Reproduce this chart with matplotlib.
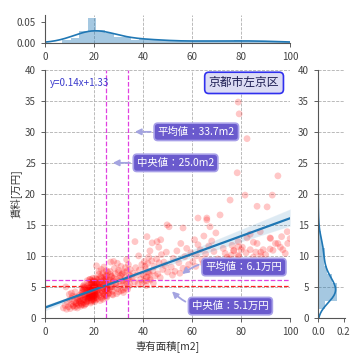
import numpy as np
import matplotlib
matplotlib.use('Agg')
import matplotlib.pyplot as plt
import seaborn as sns

sns.set_style('ticks')
plt.rcParams['font.family'] = ['Noto Sans CJK JP', 'DejaVu Sans']

# 専有面積 [m2] / 賃料 [万円]  (by area range)
area_1 = [7.5, 8.2, 8.8, 9.1, 9.6, 10.0, 10.3, 10.7, 11.0, 11.4,
          11.8, 12.1, 12.4, 12.7, 13.0, 13.2, 13.5, 13.8, 14.0, 14.2,
          9.9, 10.8, 11.6, 12.3, 12.9, 13.4, 13.9, 8.5, 11.2, 12.6]
rent_1 = [1.6, 2.0, 1.4, 2.5, 1.8, 2.9, 1.5, 2.2, 3.1, 1.9,
          2.6, 1.7, 3.4, 2.3, 2.8, 1.6, 3.0, 2.1, 3.6, 2.5,
          3.8, 4.0, 2.0, 4.2, 1.9, 3.3, 2.7, 5.0, 3.5, 2.4]

area_2 = [14.5, 14.8, 15.0, 15.2, 15.5, 15.7, 16.0, 16.2, 16.4, 16.6,
          16.8, 17.0, 17.1, 17.3, 17.5, 17.6, 17.8, 18.0, 18.1, 18.2,
          18.3, 18.5, 18.6, 18.7, 18.8, 18.9, 19.0, 19.1, 19.2, 19.3,
          19.4, 19.5, 19.6, 19.7, 19.8, 19.9, 20.0, 14.6, 15.3, 15.9,
          16.5, 17.2, 17.9, 18.4, 18.9, 19.5, 20.0, 16.1, 17.4, 18.6,
          19.2, 19.8, 15.6, 16.9, 18.0, 18.8, 19.4, 17.7, 18.2, 19.0]
rent_2 = [2.8, 3.5, 2.2, 4.1, 3.0, 2.5, 3.8, 4.5, 2.9, 3.3,
          4.8, 2.6, 3.9, 5.2, 3.1, 4.4, 2.7, 3.6, 5.0, 4.0,
          3.2, 4.7, 2.4, 5.5, 3.7, 4.2, 3.4, 5.8, 2.9, 4.6,
          3.9, 5.1, 4.3, 3.0, 5.6, 4.9, 3.6, 1.9, 2.1, 5.3,
          2.2, 6.0, 4.1, 6.2, 2.6, 6.4, 5.9, 5.0, 3.3, 3.8,
          4.5, 2.8, 4.6, 4.2, 4.9, 5.4, 3.5, 3.8, 5.7, 6.1]

area_2b = [14.3, 14.7, 15.1, 15.4, 15.8, 16.1, 16.3, 16.7, 17.0, 17.3,
           17.5, 14.9, 15.6, 16.4, 17.1, 16.0, 15.2]
rent_2b = [3.1, 2.4, 3.7, 4.4, 2.9, 3.4, 4.9, 2.3, 3.9, 4.6,
           3.2, 4.0, 5.1, 3.6, 2.7, 2.0, 4.8]

area_2c = [17.8, 17.9, 18.0, 18.1, 18.2, 18.3, 18.4, 18.5, 18.6, 18.7,
           18.8, 18.9, 19.0, 19.1, 19.2, 19.3, 19.4, 19.5, 19.6, 19.7,
           19.8, 19.9, 20.0, 20.1, 20.2, 20.3, 20.4, 20.5, 20.6, 20.7,
           20.8, 20.9, 21.0, 18.0, 18.5, 19.0, 19.5, 20.0, 20.5, 21.0,
           18.2, 18.8, 19.4, 20.0, 20.6]
rent_2c = [4.3, 3.6, 4.6, 3.4, 4.8, 3.6, 4.3, 3.9, 4.0, 3.3,
           4.9, 3.7, 4.5, 3.8, 5.3, 4.0, 4.9, 3.5, 4.7, 4.1,
           3.4, 5.6, 4.6, 3.2, 5.2, 4.4, 3.8, 5.0, 3.7, 5.0,
           4.2, 3.5, 5.8, 3.3, 3.9, 4.7, 4.5, 3.1, 4.0, 4.8,
           6.2, 2.8, 5.9, 3.8, 4.7]

area_3 = [20.2, 20.4, 20.5, 20.7, 20.9, 21.0, 21.2, 21.3, 21.5, 21.6,
          21.8, 22.0, 22.1, 22.3, 22.4, 22.6, 22.8, 22.9, 23.0, 23.2,
          23.4, 23.5, 23.7, 23.9, 24.0, 24.2, 24.3, 24.5, 24.7, 24.8,
          25.0, 25.2, 25.3, 25.5, 25.7, 25.9, 20.3, 20.8, 21.4, 21.9,
          22.5, 23.1, 23.6, 24.1, 24.6, 25.1, 25.6, 20.6, 21.1, 21.7,
          22.2, 22.7, 23.3, 23.8, 24.4, 24.9, 25.4, 25.8, 22.0, 23.0,
          21.0, 24.0, 25.0, 20.5, 22.4, 23.6, 24.8, 21.5, 23.3, 25.2]
rent_3 = [4.2, 3.6, 5.1, 4.8, 3.3, 5.7, 4.4, 6.0, 3.9, 5.3,
          4.6, 6.3, 3.7, 5.0, 4.1, 5.8, 4.9, 3.4, 6.5, 4.3,
          5.5, 4.0, 6.1, 4.7, 5.2, 3.8, 6.6, 4.5, 5.9, 4.2,
          5.4, 6.8, 4.6, 5.1, 3.9, 5.7, 2.6, 2.9, 3.1, 7.0,
          2.8, 3.2, 7.2, 3.5, 6.9, 3.3, 7.4, 5.5, 6.2, 4.9,
          5.6, 6.7, 4.4, 5.9, 5.0, 6.3, 4.8, 6.0, 7.5, 7.8,
          8.4, 8.2, 7.6, 6.4, 5.3, 3.0, 3.6, 5.0, 5.4, 4.7]

area_4 = [26.0, 26.3, 26.6, 26.9, 27.2, 27.5, 27.8, 28.1, 28.4, 28.7,
          29.0, 29.3, 29.6, 29.9, 30.2, 30.5, 30.8, 31.1, 31.4, 31.7,
          32.0, 32.3, 32.6, 32.9, 33.2, 33.5, 33.8, 34.1, 34.4, 34.7,
          26.5, 27.4, 28.3, 29.2, 30.1, 31.0, 31.9, 32.8, 33.7, 34.6,
          27.0, 28.8, 30.6, 32.4, 34.2, 26.8, 29.5, 31.6, 33.3, 35.0,
          28.0, 30.0, 32.0, 34.0, 27.7]
rent_4 = [5.3, 4.6, 6.1, 5.0, 6.7, 4.3, 5.8, 6.4, 4.9, 7.1,
          5.5, 6.2, 4.7, 7.3, 5.9, 5.2, 6.8, 4.4, 7.0, 6.0,
          5.6, 7.4, 4.8, 6.5, 5.7, 7.6, 6.3, 5.1, 6.9, 7.8,
          7.5, 3.8, 8.0, 3.9, 4.2, 8.3, 4.5, 8.1, 4.6, 5.4,
          6.6, 5.6, 6.4, 5.9, 6.2, 9.0, 8.8, 7.2, 9.4, 6.7,
          9.1, 7.7, 4.1, 8.6, 3.7]

area_4b = [24.6, 25.3, 26.1, 26.7, 27.3, 27.9, 25.8]
rent_4b = [6.2, 3.5, 4.0, 7.0, 5.0, 6.0, 4.4]

area_5 = [35.5, 36.0, 36.5, 37.0, 37.5, 38.0, 38.5, 39.0, 39.5, 40.0,
          40.5, 41.0, 41.5, 42.0, 42.5, 43.0, 43.5, 44.0, 44.5, 45.0,
          45.5, 46.0, 46.5, 47.0, 47.5, 48.0, 48.5, 49.0, 49.5, 50.0,
          36.7, 41.6, 43.7, 45.7, 47.2, 38.2, 42.8, 46.4, 49.8, 44.2]
rent_5 = [6.4, 7.2, 5.8, 8.1, 6.9, 5.5, 7.7, 6.2, 8.6, 7.0,
          5.9, 7.9, 6.6, 8.8, 7.3, 6.1, 9.2, 7.6, 8.3, 6.8,
          9.5, 7.1, 8.9, 6.5, 10.2, 7.8, 9.0, 8.4, 10.6, 7.4,
          12.3, 13.1, 12.1, 12.3, 12.6, 10.0, 10.8, 11.4, 15.0, 5.6]

area_5b = [39.6, 40.2, 40.8, 41.3, 41.9, 42.3, 42.8, 40.5, 41.5, 42.5]
rent_5b = [5.7, 6.8, 8.3, 5.2, 7.4, 9.8, 6.3, 9.1, 6.0, 7.0]

area_6 = [50.6, 51.5, 52.3, 53.0, 53.8, 54.6, 55.4, 56.3, 57.0, 57.8,
          58.6, 59.5, 60.3, 61.0, 61.8, 62.4, 63.3, 64.0, 64.8, 65.5,
          66.0, 66.8, 67.3, 68.0, 68.9, 69.7, 52.0, 55.0, 58.0, 61.5,
          64.5, 67.5, 56.3, 62.4, 66.0]
rent_6 = [14.7, 8.2, 9.6, 7.5, 10.8, 8.9, 12.0, 8.0, 9.9, 11.2,
          8.6, 10.5, 9.1, 12.6, 10.0, 16.1, 11.0, 9.4, 13.2, 10.3,
          16.1, 11.6, 14.7, 12.4, 10.7, 13.7, 6.9, 7.2, 7.8, 8.3,
          8.8, 9.3, 14.5, 11.8, 15.8]

area_7 = [70.5, 71.4, 72.7, 73.5, 74.3, 75.5, 76.3, 77.0, 78.4, 78.8,
          78.8, 79.2, 78.8, 80.5, 81.6, 82.4, 82.4, 83.7, 83.7, 85.0,
          86.5, 86.5, 87.8, 89.0, 90.6, 91.8, 91.8, 92.7, 94.0, 95.0,
          96.5, 97.0, 98.0, 98.8, 100.0, 72.0, 76.0, 80.0, 88.0, 93.0,
          78.8, 75.0, 82.0, 85.0, 90.0, 95.0, 99.0, 70.0, 73.0, 77.0,
          84.0, 88.0, 92.0, 96.0, 86.0, 79.0]
rent_7 = [9.5, 16.6, 11.2, 10.4, 9.8, 19.0, 11.7, 10.9, 23.4, 12.3,
          11.5, 32.9, 10.1, 11.4, 19.8, 28.9, 12.9, 13.5, 11.0, 12.2,
          18.0, 12.0, 13.9, 11.0, 17.9, 12.9, 11.1, 19.8, 12.0, 22.9,
          13.1, 11.0, 10.4, 13.9, 12.8, 9.2, 10.1, 11.0, 10.6, 10.9,
          34.8, 9.5, 10.5, 9.8, 10.2, 12.0, 12.0, 9.0, 8.5, 10.8,
          8.8, 10.0, 12.8, 11.4, 10.6, 9.9]

area = np.array(area_1 + area_2 + area_2b + area_2c + area_3 + area_4 + area_4b
                + area_5 + area_5b + area_6 + area_7)
rent = np.array(rent_1 + rent_2 + rent_2b + rent_2c + rent_3 + rent_4 + rent_4b
                + rent_5 + rent_5b + rent_6 + rent_7)

# summary values printed on the chart
area_mean, area_median = 33.7, 25.0
rent_mean, rent_median = 6.1, 5.1
fit_text = 'y=0.14x+1.33'
ward = '京都市左京区'

fig = plt.figure(figsize=(3.6, 3.6), dpi=100)
ax = fig.add_axes([0.125, 0.117, 0.681, 0.689])
ax_top = fig.add_axes([0.125, 0.881, 0.681, 0.078], sharex=ax)
ax_right = fig.add_axes([0.883, 0.117, 0.075, 0.689], sharey=ax)

grid_kw = dict(color='#b0b0b0', linestyle='--', linewidth=0.6)
tick_kw = dict(labelsize=7, colors='#444444', length=3, width=0.6)

# main scatter + regression
ax.set_xlim(0, 100)
ax.set_ylim(0, 40)
sns.regplot(x=area, y=rent, ax=ax, truncate=False,
            scatter_kws=dict(color='red', alpha=0.22, s=24, edgecolor='none'),
            line_kws=dict(color='#1f77b4', lw=1.6))
ax.set_xlim(0, 100)
ax.set_ylim(0, 40)
ax.set_xticks([0, 20, 40, 60, 80, 100])
ax.set_yticks(range(0, 41, 5))
ax.grid(True, **grid_kw)
ax.tick_params(**tick_kw)
ax.set_xlabel('専有面積[m2]', fontsize=7.5, color='#333333', labelpad=2)
ax.set_ylabel('賃料[万円]', fontsize=7.5, color='#333333', labelpad=2)

ax.axvline(area_median, color='#e040e0', ls='--', lw=0.9)
ax.axvline(area_mean, color='#e040e0', ls='--', lw=0.9)
ax.axhline(rent_mean, color='#e040e0', ls='--', lw=0.9)
ax.axhline(rent_median, color='#ff2020', ls='--', lw=0.9)

ax.text(2, 37.9, fit_text, color='#3c3ccc', fontsize=7, va='center')
ax.text(81.2, 37.9, ward, fontsize=8.5, color='#1a1a50', ha='center', va='center',
        bbox=dict(boxstyle='round,pad=0.35', fc='#dcdcf4', ec='#3030ee', lw=1.2))

box_kw = dict(boxstyle='round,pad=0.35', fc='#6a5acd', ec='#a8a0e8', lw=1.2)
arr = dict(arrowstyle='-|>', color='#a4a4e0', lw=1.3, mutation_scale=9)
ax.annotate('平均値：%.1fm2' % area_mean, xy=(35.5, 30), xytext=(46, 30),
            color='white', fontsize=7.5, va='center', bbox=box_kw, arrowprops=arr)
ax.annotate('中央値：%.1fm2' % area_median, xy=(26.5, 25), xytext=(37.5, 25),
            color='white', fontsize=7.5, va='center', bbox=box_kw, arrowprops=arr)
ax.annotate('平均値：%.1f万円' % rent_mean, xy=(55, 6.8), xytext=(65.5, 8.2),
            color='white', fontsize=7.5, va='center', bbox=box_kw,
            arrowprops=dict(arr, connectionstyle='arc3,rad=0.3'))
ax.annotate('中央値：%.1f万円' % rent_median, xy=(51, 4.6), xytext=(60, 1.9),
            color='white', fontsize=7.5, va='center', bbox=box_kw,
            arrowprops=dict(arr, connectionstyle='arc3,rad=-0.3'))

# top marginal
bins = np.arange(0, 104, 3.5)
ax_top.hist(area, bins=bins, density=True, color='#1f77b4', alpha=0.4, linewidth=0)
sns.kdeplot(x=area, ax=ax_top, color='#1f77b4', lw=1.2)
ax_top.set_ylim(0, 0.068)
ax_top.set_yticks([0.0, 0.05])
ax_top.set_yticklabels(['0.00', '0.05'])
ax_top.set_ylabel('')
ax_top.grid(True, axis='x', **grid_kw)
ax_top.tick_params(labelbottom=True, **tick_kw)

# right marginal
rbins = np.arange(0, 42, 1.4)
ax_right.hist(rent, bins=rbins, density=True, orientation='horizontal',
              color='#1f77b4', alpha=0.4, linewidth=0)
sns.kdeplot(y=rent, ax=ax_right, color='#1f77b4', lw=1.2)
ax_right.set_xlim(0, 0.21)
ax_right.set_xticks([0.0, 0.2])
ax_right.set_xticklabels(['0.0', '0.2'])
ax_right.set_xlabel('')
ax_right.set_ylabel('')
ax_right.grid(True, axis='y', **grid_kw)
ax_right.tick_params(labelleft=True, **tick_kw)

for a in (ax, ax_top, ax_right):
    for s in ('top', 'right'):
        a.spines[s].set_visible(False)
    for s in ('left', 'bottom'):
        a.spines[s].set_color('#555555')
        a.spines[s].set_linewidth(0.8)
ax_right.set_ylim(0, 40)
ax.set_xlim(0, 100)

fig.savefig('out.png', dpi=100)
